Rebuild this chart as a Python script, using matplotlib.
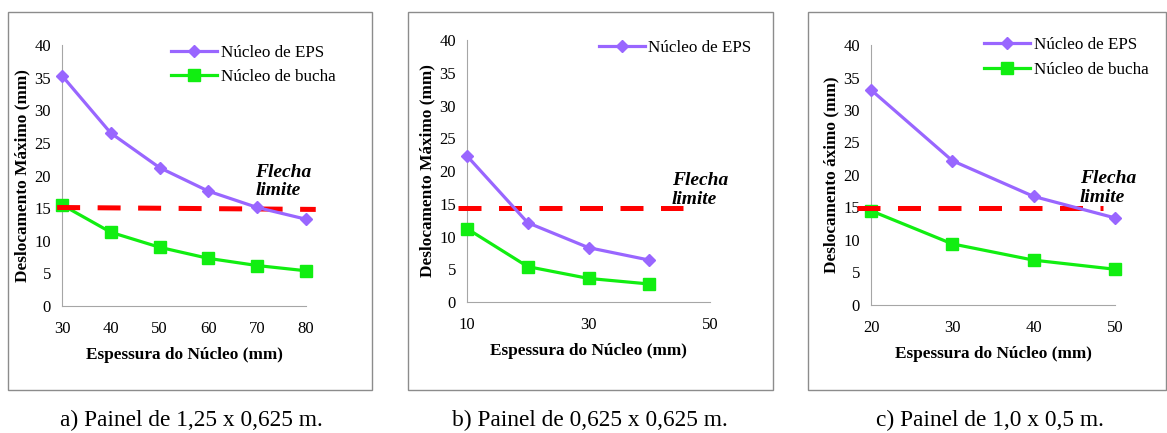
import matplotlib.pyplot as plt
from matplotlib.patches import Rectangle

plt.rcParams["font.family"] = ["Liberation Serif", "DejaVu Serif"]

# panel a) 1,25 x 0,625 m
a_x = [30, 40, 50, 60, 70, 80]
a_eps = [35.3, 26.5, 21.2, 17.6, 15.1, 13.3]
a_bucha = [15.5, 11.3, 9.0, 7.3, 6.2, 5.4]
a_limit_x = [29, 82]
a_limit_y = [15.1, 14.8]

# panel b) 0,625 x 0,625 m
b_x = [10, 20, 30, 40]
b_eps = [22.3, 12.1, 8.3, 6.4]
b_bucha = [11.2, 5.4, 3.6, 2.75]
b_limit_x = [8.5, 45.6]
b_limit_y = [14.3, 14.3]

# panel c) 1,0 x 0,5 m
c_x = [20, 30, 40, 50]
c_eps = [33.1, 22.2, 16.7, 13.4]
c_bucha = [14.5, 9.4, 6.9, 5.5]
c_limit_x = [18.3, 48.5]
c_limit_y = [14.9, 14.9]

ylabels = ["Deslocamento Máximo (mm)", "Deslocamento Máximo (mm)", "Deslocamento áximo (mm)"]
captions = ["a) Painel de 1,25 x 0,625 m.", "b) Painel de 0,625 x 0,625 m.", "c) Painel de 1,0 x 0,5 m."]

purple = "#9966ff"
green = "#11ee11"
red = "#ff0000"

fig = plt.figure(figsize=(11.67, 4.33), dpi=100)
W, H = 1167.0, 433.0

# gray frames around each chart
for x0, x1 in [(8, 372), (408, 773), (808, 1166)]:
    fig.patches.append(Rectangle((x0 / W, 1 - 390 / H), (x1 - x0) / W, 378 / H,
                                 transform=fig.transFigure, fill=False,
                                 edgecolor="#8c8c8c", linewidth=1.0))

axes_px = [(62, 306, 45, 306), (467, 710, 40, 302), (871, 1115, 45, 305)]
data = [
    (a_x, a_eps, a_bucha, a_limit_x, a_limit_y, (30, 80), [30, 40, 50, 60, 70, 80], True, (69.6, 19.1)),
    (b_x, b_eps, b_bucha, b_limit_x, b_limit_y, (10, 50), [10, 30, 50], False, (43.7, 17.1)),
    (c_x, c_eps, c_bucha, c_limit_x, c_limit_y, (20, 50), [20, 30, 40, 50], True, (45.7, 18.0)),
]
leg_anchor = [(0.385, 1.06), (0.478, 1.06), (0.40, 1.09)]
caption_x = [191, 590, 990]

for i, ((l, r, t, b), d) in enumerate(zip(axes_px, data)):
    xs, eps, bucha, lx, ly, xlim, xticks, two_leg, ftxt = d
    ax = fig.add_axes([l / W, 1 - b / H, (r - l) / W, (b - t) / H])
    h_b, = ax.plot(xs, bucha, "-s", color=green, lw=2.3, ms=9, zorder=3, clip_on=False)
    ax.plot(lx, ly, color=red, lw=3.6, dashes=(4.6, 3.5), clip_on=False, zorder=4)
    h_e, = ax.plot(xs, eps, "-D", color=purple, lw=2.3, ms=6, zorder=5, clip_on=False)
    ax.set_xlim(*xlim)
    ax.set_ylim(0, 40)
    ax.set_xticks(xticks)
    ax.set_yticks(range(0, 41, 5))
    for s in ["top", "right"]:
        ax.spines[s].set_visible(False)
    for s in ["left", "bottom"]:
        ax.spines[s].set_color("#a6a6a6")
    ax.tick_params(length=0, labelsize=12, pad=8)
    ax.tick_params(axis="x", pad=11)
    ax.set_xlabel("Espessura do Núcleo (mm)", fontsize=12.4, fontweight="bold", labelpad=7)
    ax.set_ylabel(ylabels[i], fontsize=12.4, fontweight="bold", labelpad=3)
    ax.text(ftxt[0], ftxt[1], "Flecha\nlimite", fontsize=14, fontweight="bold",
            style="italic", ha="left", va="center", linespacing=1.12)
    if two_leg:
        handles, labels = [h_e, h_b], ["Núcleo de EPS", "Núcleo de bucha"]
    else:
        handles, labels = [h_e], ["Núcleo de EPS"]
    ax.legend(handles, labels, loc="upper left", bbox_to_anchor=leg_anchor[i],
              frameon=False, fontsize=12.3, handlelength=2.7, handletextpad=0.2,
              labelspacing=0.5)
    fig.text(caption_x[i] / W, 1 - 420 / H, captions[i], ha="center", va="center",
             fontsize=16.8)

fig.savefig("out.png", dpi=100)
